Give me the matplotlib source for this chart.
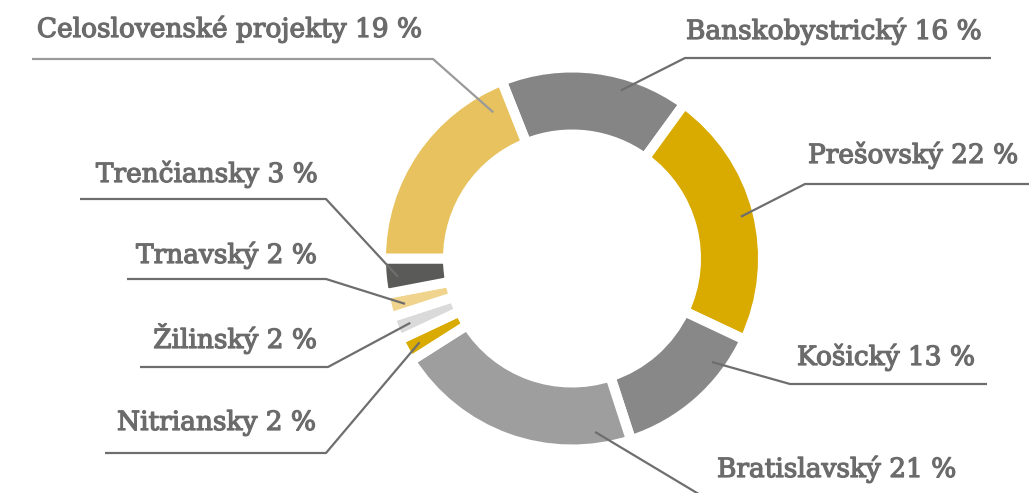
import numpy as np
import matplotlib
matplotlib.use("Agg")
import matplotlib.pyplot as plt
import matplotlib.patheffects as pe

# ---- data (clockwise from the top) ----
regions = ["Banskobystrický", "Prešovský", "Košický", "Bratislavský",
           "Nitriansky", "Žilinský", "Trnavský", "Trenčiansky",
           "Celoslovenské projekty"]
shares = [16, 22, 13, 21, 2, 2, 2, 3, 19]
colors = ["#858585", "#D9AA00", "#888888", "#9E9E9E",
          "#D9AA00", "#DADADA", "#F0D38C", "#5A5A59", "#E7C25E"]

W, H = 1029, 493
fig = plt.figure(figsize=(W / 100, H / 100), dpi=100)
ax = fig.add_axes([0, 0, 1, 1])

def Y(y):  # image row -> data y
    return H - y

cx, cy = 572, 258.5
R_vis, r_vis, gap = 186, 129, 10
ax.pie(shares, colors=colors, startangle=111.6, counterclock=False,
       radius=R_vis + gap / 2, center=(cx, Y(cy)),
       wedgeprops=dict(width=(R_vis + gap / 2) - (r_vis - gap / 2),
                       edgecolor="white", linewidth=gap * 0.72))
ax.set_xlim(0, W)
ax.set_ylim(0, H)
ax.set_aspect("equal")
ax.axis("off")

# ---- label layout: (anchor angle deg, anchor radius, elbow x, line y, line end x, text x, text baseline y, ha)
layout = {
    "Banskobystrický":        (73.8, 175, 685, 58, 991, 686, 39, "left"),
    "Prešovský":              (13.9, 174, 805, 184, 1029, 808, 163, "left"),
    "Košický":                (-36.5, 174, 790, 384, 987, 797, 365, "left"),
    "Bratislavský":           (-82.4, 175, 702, 496, 990, 717, 477, "left"),
    "Nitriansky":             (208.8, 174, 326, 453, 105, 316, 430, "right"),
    "Žilinský":               (201.7, 174, 328, 367, 140, 317, 348, "right"),
    "Trnavský":               (195.2, 173, 326, 279, 127, 317, 263, "right"),
    "Trenčiansky":            (186.0, 175, 326, 199, 80, 318, 182, "right"),
    "Celoslovenské projekty": (118.3, 166, 433, 59, 32, 422, 37, "right"),
}
text_color = "#6B6B6B"
for name, val in zip(regions, shares):
    ang, rad, ex, ly, lx_end, tx, ty, ha = layout[name]
    axp = cx + rad * np.cos(np.radians(ang))
    ayp = cy - rad * np.sin(np.radians(ang))
    lc = "#9A9A9A" if name.startswith("Celo") else "#6E6E6E"
    ax.plot([axp, ex, lx_end], [Y(ayp), Y(ly), Y(ly)], color=lc, lw=1.6,
            solid_capstyle="butt", clip_on=False)
    ax.text(tx, Y(ty), f"{name} {val} %", ha=ha, va="baseline",
            fontsize=19, color=text_color, family="DejaVu Serif",
            path_effects=[pe.withStroke(linewidth=0.9, foreground=text_color)])

fig.savefig("out.png", dpi=100)
